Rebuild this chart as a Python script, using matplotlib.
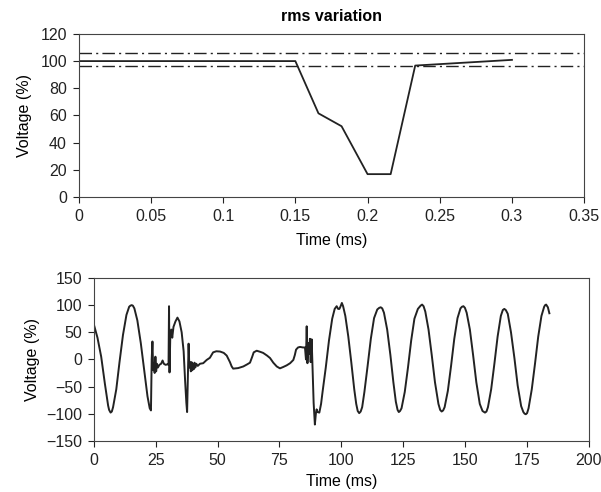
import matplotlib.pyplot as plt

plt.rcParams['font.family'] = ['Liberation Sans', 'DejaVu Sans']
plt.rcParams['font.size'] = 11.5

# rms variation (top panel)
rms_t = [0.0, 0.150, 0.166, 0.182, 0.200, 0.216, 0.233, 0.300]
rms_v = [100, 100, 61.5, 52, 16.7, 16.7, 96.7, 100.9]
upper_limit = 105.8
lower_limit = 96.7

# voltage waveform (bottom panel)
wave_t = [0, 1.5, 3, 4.5, 5.8, 6.2, 6.8, 7.3, 7.8, 9.1, 10.4, 11.8, 13.2, 14.3,
          14.8, 15.3, 15.8, 16.4, 17.6, 19.0, 20.4, 21.7, 22.6, 23.1,
          23.4, 23.7, 24.0, 24.3, 24.6, 24.9, 25.2, 25.5, 25.9, 26.5, 27.2, 27.8,
          28.3, 29.0, 29.8, 30.2, 30.4, 30.6, 30.9, 31.3, 31.7, 32.2, 33.0, 33.8,
          34.6, 35.5, 36.3, 36.9, 37.4, 37.7, 38.0, 38.3, 38.6, 38.9, 39.2, 39.5,
          39.8, 40.1, 40.4, 40.7, 41.0, 41.4, 42.0, 42.9, 44.2, 45.6, 46.9, 48.2,
          49.5, 51.0, 52.5, 53.7, 55.0, 55.7, 56.3, 58.3, 60.4, 62.0, 63.1, 64.0,
          64.6, 65.8, 67.2, 68.4, 70.0, 71.2, 72.5, 73.9, 75.2, 76.5, 77.9, 79.3,
          80.6, 81.2, 81.7, 82.5, 83.3, 84.5, 85.3, 85.7, 86.0, 86.3, 86.7, 87.0,
          87.3, 87.6, 88.0, 88.4, 88.8, 89.3, 89.7, 90.0, 90.4, 91.1, 91.8,
          92.4, 93.7, 95.0, 96.3, 97.3, 98.1, 98.7, 99.2, 99.7, 100.2, 100.7,
          101.6, 102.8, 104.0, 105.2, 106.0, 106.6, 107.2, 107.8, 108.4, 109.3,
          110.6, 111.9, 113.2, 114.5, 115.3, 115.9, 116.5, 117.2, 118.5, 119.8,
          121.0, 122.0, 122.7, 123.2, 123.7, 124.3, 125.6, 126.9, 128.2, 129.5,
          130.9, 132.0, 132.6, 133.2, 133.9, 135.2, 136.5, 137.8, 139.2, 139.9,
          140.5, 141.1, 141.7, 143.0, 144.3, 145.6, 146.9, 148.1, 148.7, 149.3,
          149.9, 150.6, 151.9, 153.2, 154.5, 155.9, 157.0, 158.0, 158.6, 159.2,
          160.5, 161.8, 163.1, 164.4, 165.2, 165.8, 166.4, 167.2, 168.5, 169.9,
          171.2, 172.6, 173.5, 174.0, 174.5, 175.0, 175.6, 176.9, 178.2, 179.5,
          180.8, 181.9, 182.3, 182.7, 183.4, 184.0]
wave_v = [65, 40, 5, -45, -85, -93, -98, -96, -88, -55, -5, 45, 82, 97,
          99, 100, 99, 94, 72, 30, -20, -68, -90, -94,
          0, 33, -20, -8, -25, 5, -22, -8, -15, -10, -8, -2,
          -8, -10, -9, -10, 98, -24, 40, 55, 40, 60, 70, 77,
          70, 50, 15, -40, -80, -97, -30, 29, -15, -5, -22, -5,
          -20, -8, -18, -6, -15, -8, -12, -8, -7, -1, 3, 13,
          15, 14.5, 12, 7, -5, -13, -17, -16, -13, -9, -6, 5,
          13, 16, 14, 12, 7, 2.5, -6, -13, -16.5, -14, -11, -7,
          -1, 8, 18, 22, 23, 22, 22, 0, 61, -7, 30, 10,
          38, -5, 37, -20, -80, -120, -100, -92, -97, -98, -82,
          -60, -15, 35, 75, 93, 98, 93, 93, 98, 104, 98,
          80, 42, -5, -55, -82, -95, -99, -96, -88, -60,
          -12, 38, 76, 92, 95, 96, 94, 86, 55, 8,
          -42, -78, -93, -97, -95, -90, -60, -15, 35, 75,
          93, 99, 101, 98, 88, 55, 8, -42, -82, -93,
          -96, -94, -88, -58, -12, 38, 76, 94, 97, 98,
          95, 86, 55, 8, -42, -82, -95, -98, -96, -88,
          -55, -8, 42, 80, 91, 93, 91, 84, 50, 2,
          -48, -86, -97, -100, -101, -99, -90, -55, -8, 42,
          80, 97, 100, 101, 96, 85]

top_xticks = [0, 0.05, 0.1, 0.15, 0.2, 0.25, 0.3, 0.35]
top_xlabels = ['0', '0.05', '0.1', '0.15', '0.2', '0.25', '0.3', '0.35']
top_yticks = [0, 20, 40, 60, 80, 100, 120]
bot_xticks = [0, 25, 50, 75, 100, 125, 150, 175, 200]
bot_yticks = [-150, -100, -50, 0, 50, 100, 150]

line_col = '#222222'
fig = plt.figure(figsize=(6.01, 4.92), dpi=100)

ax1 = fig.add_axes([0.131, 0.600, 0.841, 0.331])
ax1.plot(rms_t, rms_v, color=line_col, lw=1.3)
ax1.axhline(upper_limit, color=line_col, lw=1.0, ls=(0, (9, 3, 1.5, 3)))
ax1.axhline(lower_limit, color=line_col, lw=1.0, ls=(0, (9, 3, 1.5, 3)))
ax1.set_xlim(0, 0.35)
ax1.set_ylim(0, 120)
ax1.set_xticks(top_xticks)
ax1.set_xticklabels(top_xlabels)
ax1.set_yticks(top_yticks)
ax1.set_xlabel('Time (ms)', va='center')
ax1.set_ylabel('Voltage (%)', va='center')
ax1.xaxis.set_label_coords(0.5, -0.268)
ax1.yaxis.set_label_coords(-0.107, 0.5)
ax1.set_title('rms variation', fontweight='bold', fontsize=11.5, pad=9)

ax2 = fig.add_axes([0.156, 0.104, 0.824, 0.331])
ax2.plot(wave_t, wave_v, color=line_col, lw=1.4)
ax2.set_xlim(0, 200)
ax2.set_ylim(-150, 150)
ax2.set_xticks(bot_xticks)
ax2.set_yticks(bot_yticks)
ax2.set_xlabel('Time (ms)', va='center')
ax2.set_ylabel('Voltage (%)', va='center')
ax2.xaxis.set_label_coords(0.5, -0.252)
ax2.yaxis.set_label_coords(-0.123, 0.5)

for ax in (ax1, ax2):
    ax.tick_params(direction='out', length=4.5, width=0.8, colors='#222222',
                   labelsize=11.5, pad=4)
    for s in ax.spines.values():
        s.set_color('#444444')
        s.set_linewidth(0.8)

fig.savefig('out.png', dpi=100)
